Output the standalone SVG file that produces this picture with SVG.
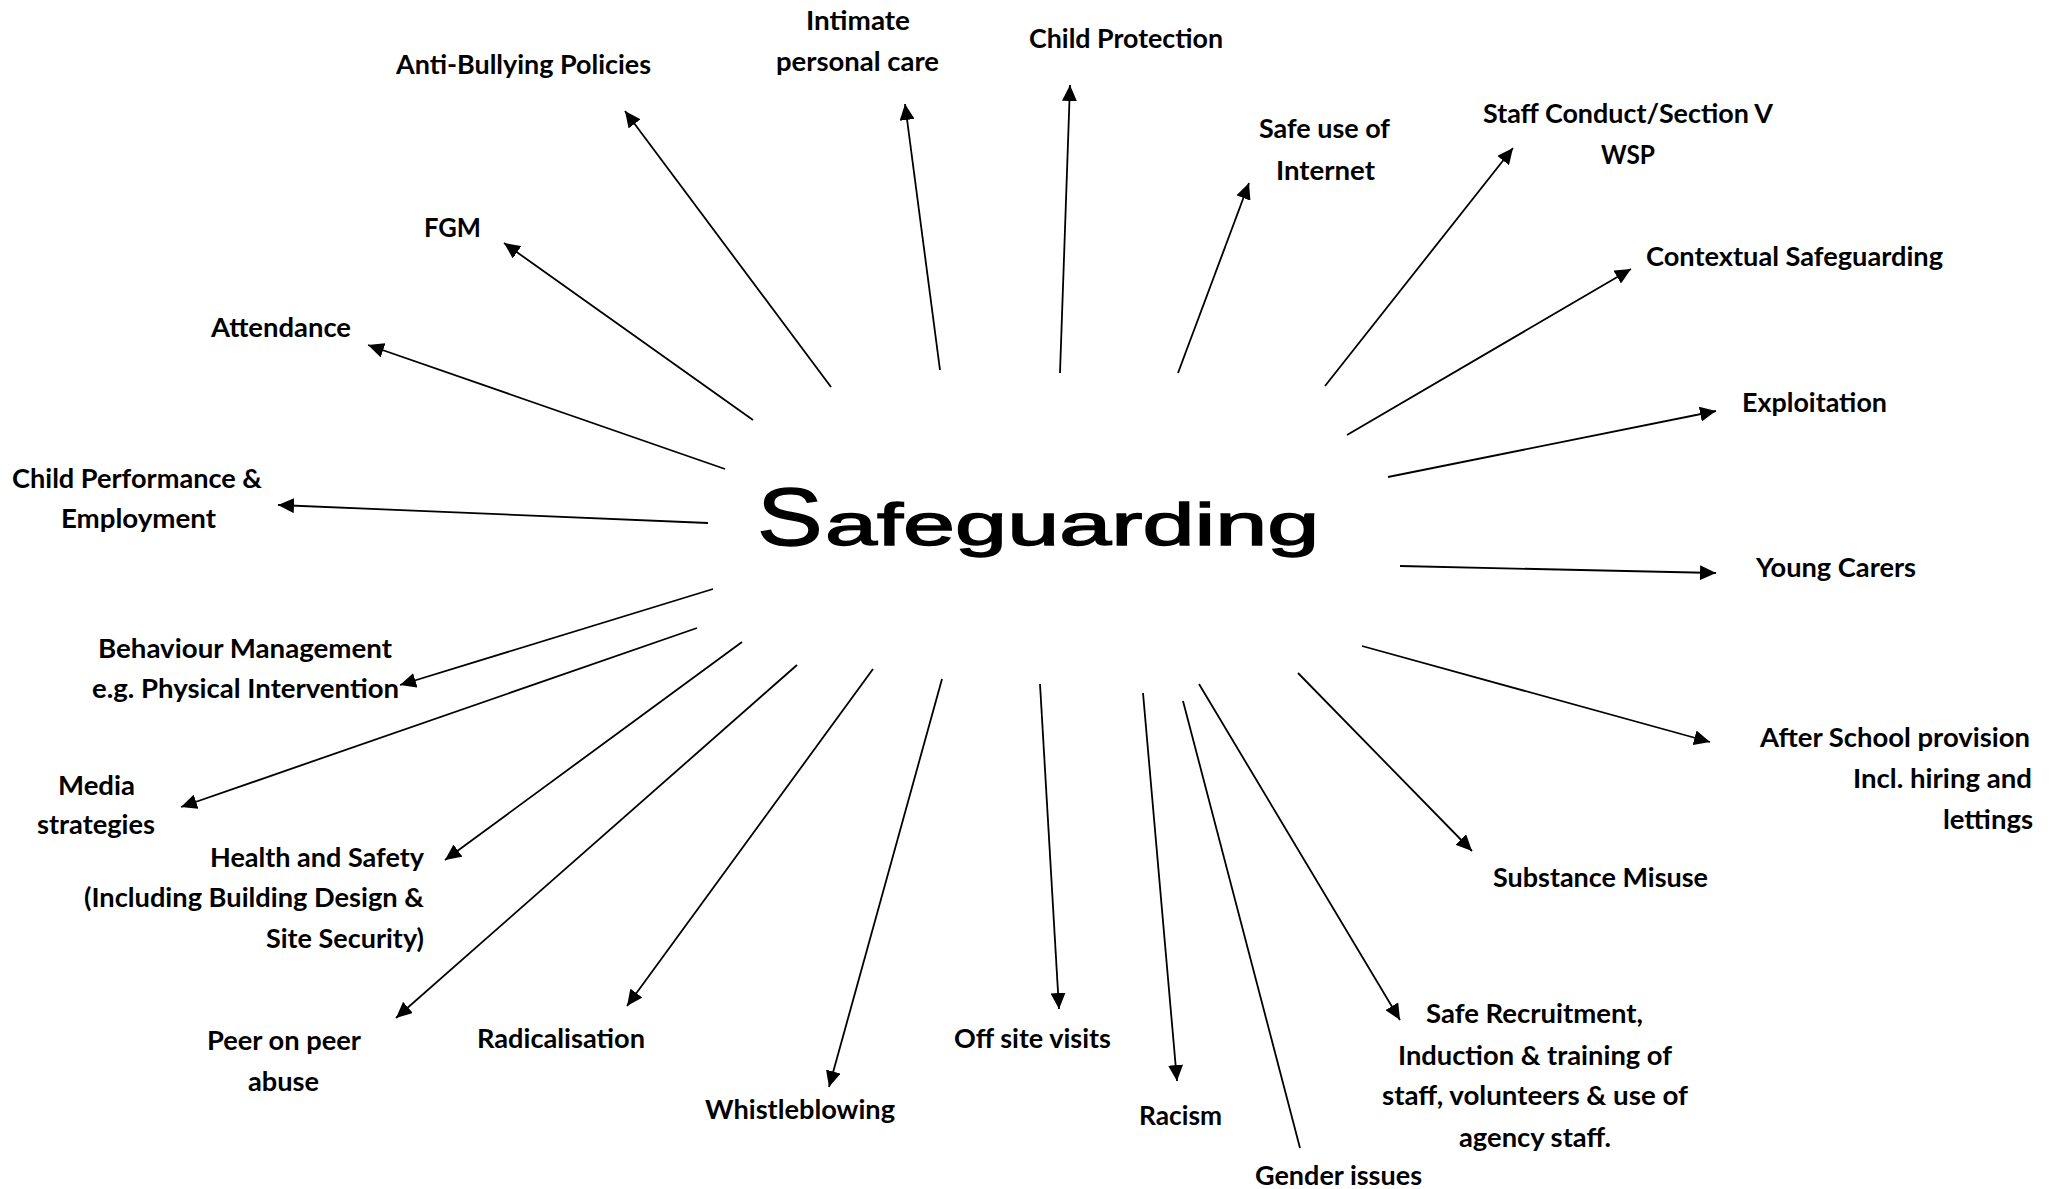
<svg xmlns="http://www.w3.org/2000/svg" width="2060" height="1189" viewBox="0 0 2060 1189">
<style>
.lbl{font-family:Lato,"Open Sans","Liberation Sans",sans-serif;font-weight:700;font-size:26px;fill:#000}
.con line{stroke:#000;stroke-width:1.8;fill:none}
.title{font-family:"Liberation Sans",Arial,sans-serif;font-weight:400;fill:#000;stroke:#000;stroke-width:1.4}
</style>
<defs>
<marker id="ah" markerUnits="userSpaceOnUse" viewBox="0 0 16 15" markerWidth="16" markerHeight="15" refX="16" refY="7.5" orient="auto">
<path d="M0,0 L16,7.5 L0,15 Z" fill="#000"/>
</marker>
</defs>
<rect width="2060" height="1189" fill="#fff"/>
<g id="connectors" class="con">
<line x1="831" y1="387" x2="625" y2="111" marker-end="url(#ah)"/>
<line x1="940" y1="370" x2="905" y2="104" marker-end="url(#ah)"/>
<line x1="1060" y1="373" x2="1070" y2="85" marker-end="url(#ah)"/>
<line x1="1178" y1="373" x2="1249" y2="183" marker-end="url(#ah)"/>
<line x1="1325" y1="386" x2="1513" y2="148" marker-end="url(#ah)"/>
<line x1="1347" y1="435" x2="1631" y2="269" marker-end="url(#ah)"/>
<line x1="1388" y1="477" x2="1716" y2="411" marker-end="url(#ah)"/>
<line x1="1400" y1="566" x2="1716" y2="573" marker-end="url(#ah)"/>
<line x1="1362" y1="646" x2="1710" y2="742" marker-end="url(#ah)"/>
<line x1="1298" y1="673" x2="1472" y2="851" marker-end="url(#ah)"/>
<line x1="1199" y1="684" x2="1400" y2="1020" marker-end="url(#ah)"/>
<line x1="1183" y1="701" x2="1300" y2="1148"/>
<line x1="1143" y1="693" x2="1177" y2="1081" marker-end="url(#ah)"/>
<line x1="1040" y1="684" x2="1059" y2="1009" marker-end="url(#ah)"/>
<line x1="942" y1="679" x2="829" y2="1087" marker-end="url(#ah)"/>
<line x1="873" y1="669" x2="627" y2="1006" marker-end="url(#ah)"/>
<line x1="797" y1="665" x2="396" y2="1018" marker-end="url(#ah)"/>
<line x1="742" y1="642" x2="445" y2="860" marker-end="url(#ah)"/>
<line x1="697" y1="628" x2="181" y2="807" marker-end="url(#ah)"/>
<line x1="713" y1="589" x2="400" y2="685" marker-end="url(#ah)"/>
<line x1="708" y1="523" x2="278" y2="505" marker-end="url(#ah)"/>
<line x1="725" y1="469" x2="368" y2="345" marker-end="url(#ah)"/>
<line x1="753" y1="420" x2="504" y2="243" marker-end="url(#ah)"/>
</g>
<g id="center">
<text class="title" transform="translate(757,545) scale(1.2,1)" x="0" y="0" font-size="82" stroke-width="1.8">S</text>
<text class="title" transform="translate(825,545) scale(1.56,1)" x="0" y="0" font-size="60">afeguarding</text>
</g>
<g id="n-antibullying"><text class="lbl" x="396" y="74" textLength="255" lengthAdjust="spacingAndGlyphs">Anti-Bullying Policies</text></g>
<g id="n-fgm"><text class="lbl" x="424" y="237" textLength="57" lengthAdjust="spacingAndGlyphs">FGM</text></g>
<g id="n-attendance"><text class="lbl" x="211" y="337" textLength="140" lengthAdjust="spacingAndGlyphs">Attendance</text></g>
<g id="n-intimate">
<text class="lbl" x="806" y="30" textLength="104" lengthAdjust="spacingAndGlyphs">Intimate</text>
<text class="lbl" x="776" y="71" textLength="163" lengthAdjust="spacingAndGlyphs">personal care</text>
</g>
<g id="n-childprotection"><text class="lbl" x="1029" y="48" textLength="194" lengthAdjust="spacingAndGlyphs">Child Protection</text></g>
<g id="n-internet">
<text class="lbl" x="1259" y="138" textLength="131" lengthAdjust="spacingAndGlyphs">Safe use of</text>
<text class="lbl" x="1276" y="180" textLength="99" lengthAdjust="spacingAndGlyphs">Internet</text>
</g>
<g id="n-staffconduct">
<text class="lbl" x="1483" y="123" textLength="290" lengthAdjust="spacingAndGlyphs">Staff Conduct/Section V</text>
<text class="lbl" x="1601" y="164" textLength="54" lengthAdjust="spacingAndGlyphs">WSP</text>
</g>
<g id="n-contextual"><text class="lbl" x="1646" y="266" textLength="297" lengthAdjust="spacingAndGlyphs">Contextual Safeguarding</text></g>
<g id="n-exploitation"><text class="lbl" x="1742" y="412" textLength="145" lengthAdjust="spacingAndGlyphs">Exploitation</text></g>
<g id="n-youngcarers"><text class="lbl" x="1756" y="577" textLength="160" lengthAdjust="spacingAndGlyphs">Young Carers</text></g>
<g id="n-afterschool">
<text class="lbl" x="1760" y="747" textLength="270" lengthAdjust="spacingAndGlyphs">After School provision</text>
<text class="lbl" x="1853" y="788" textLength="179" lengthAdjust="spacingAndGlyphs">Incl. hiring and</text>
<text class="lbl" x="1943" y="829" textLength="90" lengthAdjust="spacingAndGlyphs">lettings</text>
</g>
<g id="n-substance"><text class="lbl" x="1493" y="887" textLength="215" lengthAdjust="spacingAndGlyphs">Substance Misuse</text></g>
<g id="n-recruitment">
<text class="lbl" x="1426" y="1023" textLength="217" lengthAdjust="spacingAndGlyphs">Safe Recruitment,</text>
<text class="lbl" x="1398" y="1065" textLength="274" lengthAdjust="spacingAndGlyphs">Induction &amp; training of</text>
<text class="lbl" x="1382" y="1105" textLength="306" lengthAdjust="spacingAndGlyphs">staff, volunteers &amp; use of</text>
<text class="lbl" x="1459" y="1147" textLength="152" lengthAdjust="spacingAndGlyphs">agency staff.</text>
</g>
<g id="n-gender"><text class="lbl" x="1255" y="1185" textLength="167" lengthAdjust="spacingAndGlyphs">Gender issues</text></g>
<g id="n-racism"><text class="lbl" x="1139" y="1125" textLength="83" lengthAdjust="spacingAndGlyphs">Racism</text></g>
<g id="n-offsite"><text class="lbl" x="954" y="1048" textLength="157" lengthAdjust="spacingAndGlyphs">Off site visits</text></g>
<g id="n-whistleblowing"><text class="lbl" x="705" y="1119" textLength="190" lengthAdjust="spacingAndGlyphs">Whistleblowing</text></g>
<g id="n-radicalisation"><text class="lbl" x="477" y="1048" textLength="168" lengthAdjust="spacingAndGlyphs">Radicalisation</text></g>
<g id="n-peer">
<text class="lbl" x="207" y="1050" textLength="154" lengthAdjust="spacingAndGlyphs">Peer on peer</text>
<text class="lbl" x="248" y="1091" textLength="71" lengthAdjust="spacingAndGlyphs">abuse</text>
</g>
<g id="n-health">
<text class="lbl" x="210" y="867" textLength="214" lengthAdjust="spacingAndGlyphs">Health and Safety</text>
<text class="lbl" x="84" y="907" textLength="340" lengthAdjust="spacingAndGlyphs">(Including Building Design &amp;</text>
<text class="lbl" x="266" y="948" textLength="158" lengthAdjust="spacingAndGlyphs">Site Security)</text>
</g>
<g id="n-media">
<text class="lbl" x="58" y="795" textLength="77" lengthAdjust="spacingAndGlyphs">Media</text>
<text class="lbl" x="37" y="834" textLength="118" lengthAdjust="spacingAndGlyphs">strategies</text>
</g>
<g id="n-behaviour">
<text class="lbl" x="98" y="658" textLength="294" lengthAdjust="spacingAndGlyphs">Behaviour Management</text>
<text class="lbl" x="92" y="698" textLength="307" lengthAdjust="spacingAndGlyphs">e.g. Physical Intervention</text>
</g>
<g id="n-childperformance">
<text class="lbl" x="12" y="488" textLength="250" lengthAdjust="spacingAndGlyphs">Child Performance &amp;</text>
<text class="lbl" x="61" y="528" textLength="155" lengthAdjust="spacingAndGlyphs">Employment</text>
</g>
</svg>
